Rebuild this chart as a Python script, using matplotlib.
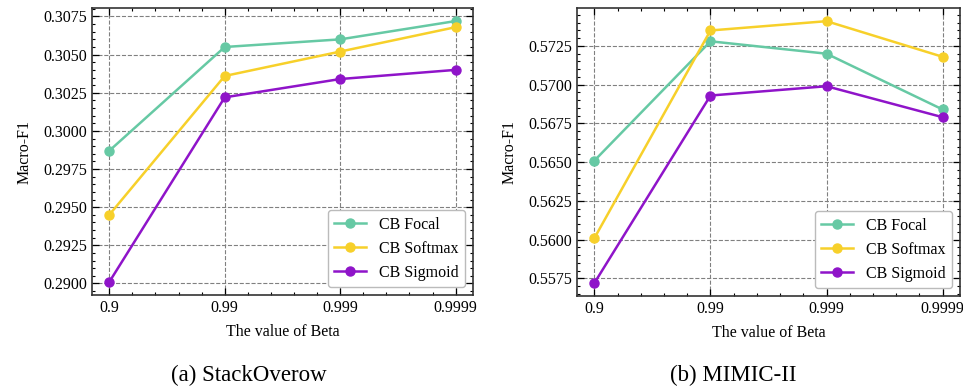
import matplotlib
matplotlib.use("Agg")
import matplotlib.pyplot as plt
from matplotlib.ticker import AutoMinorLocator

plt.rcParams['font.family'] = ['Liberation Serif', 'DejaVu Serif']
plt.rcParams['font.size'] = 11.5

# x axis categories
betas = ['0.9', '0.99', '0.999', '0.9999']

# StackOverflow
so_focal = [0.2987, 0.3055, 0.3060, 0.3072]
so_softmax = [0.2945, 0.3036, 0.3052, 0.3068]
so_sigmoid = [0.2901, 0.3022, 0.3034, 0.3040]
so_ticks = [0.2900, 0.2925, 0.2950, 0.2975, 0.3000, 0.3025, 0.3050, 0.3075]

# MIMIC-II
mm_focal = [0.5651, 0.5728, 0.5720, 0.5684]
mm_softmax = [0.5601, 0.5735, 0.5741, 0.5718]
mm_sigmoid = [0.5572, 0.5693, 0.5699, 0.5679]
mm_ticks = [0.5575, 0.5600, 0.5625, 0.5650, 0.5675, 0.5700, 0.5725]

labels = ['CB Focal', 'CB Softmax', 'CB Sigmoid']
colors = ['#66c9a4', '#f7d02a', '#8f14c9']

fig = plt.figure(figsize=(9.63, 3.87), dpi=100)
ax1 = fig.add_axes([0.0955, 0.2377, 0.3956, 0.7416])
ax2 = fig.add_axes([0.5992, 0.2351, 0.3977, 0.7440])


def draw(ax, series, yticks):
    x = list(range(len(betas)))
    for ys, lab, c in zip(series, labels, colors):
        ax.plot(x, ys, '-o', color=c, label=lab, lw=1.8, ms=6.5)
    ax.set_xticks(x)
    ax.set_xticklabels(betas)
    ax.set_yticks(yticks)
    ax.set_yticklabels(['%.4f' % t for t in yticks])
    ax.xaxis.set_minor_locator(AutoMinorLocator(5))
    ax.yaxis.set_minor_locator(AutoMinorLocator(5))
    ax.tick_params(which='both', direction='in', top=True, right=True)
    ax.tick_params(which='major', length=5, width=0.9)
    ax.tick_params(which='minor', length=2.5, width=0.8)
    ax.grid(True, linestyle='--', color='#808080', lw=0.8)
    ax.set_axisbelow(True)
    for s in ax.spines.values():
        s.set_linewidth(1.2)
        s.set_color('#333333')
    ax.set_xlabel('The value of Beta', labelpad=6)
    ax.set_ylabel('Macro-F1', labelpad=8)
    leg = ax.legend(loc='lower right', fancybox=True, framealpha=1,
                    edgecolor='#bbbbbb', fontsize=11.5)
    leg.get_frame().set_linewidth(1.0)


draw(ax1, [so_focal, so_softmax, so_sigmoid], so_ticks)
draw(ax2, [mm_focal, mm_softmax, mm_sigmoid], mm_ticks)

fig.text(0.258, 0.016, '(a) StackOverow', ha='center', va='baseline', fontsize=16.5)
fig.text(0.761, 0.016, '(b) MIMIC-II', ha='center', va='baseline', fontsize=16.5)

fig.savefig('out.png', dpi=100)
